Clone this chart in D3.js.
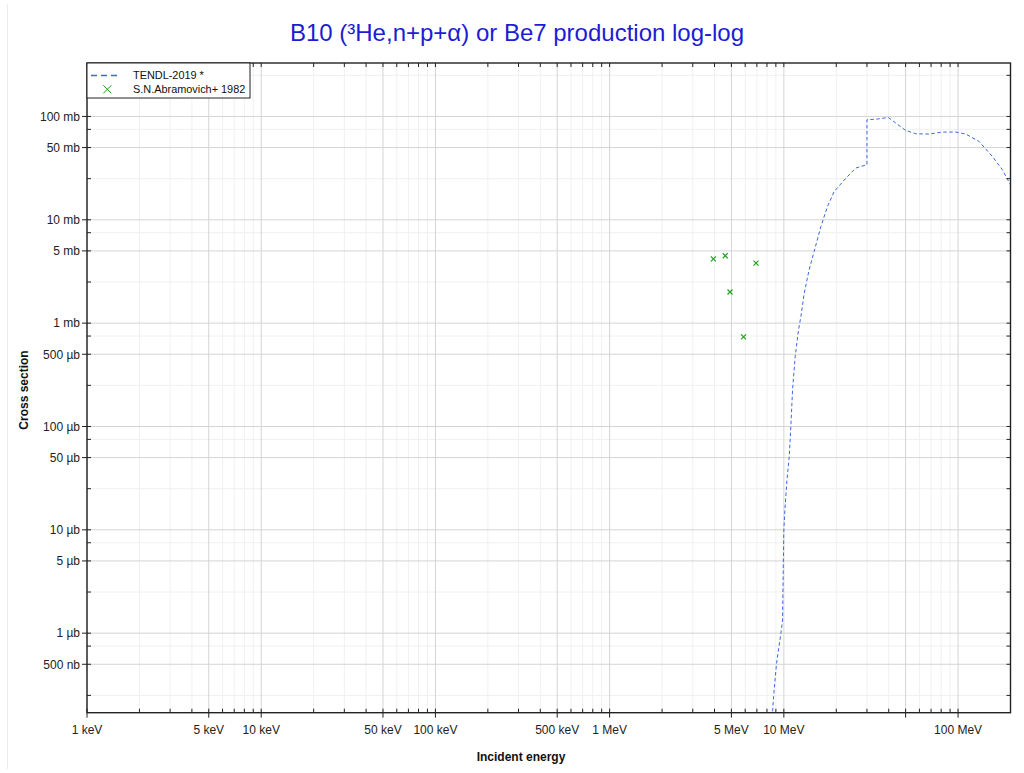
<!DOCTYPE html>
<html><head><meta charset="utf-8">
<script src="https://cdn.jsdelivr.net/npm/d3@7"></script>
<style>body{margin:0;background:#fff;font-family:"Liberation Sans",Arial,sans-serif}</style>
</head><body><svg id="c" width="1024" height="773"></svg>
<script>
// TENDL-2019 evaluation: energy (eV), cross section (b)
const tendlE = [8.3e6,8.61e6,8.73e6,9.08e6,9.62e6,9.83e6,9.93e6,1.0e7,1.014e7,1.042e7,1.074e7,1.097e7,1.122e7,1.162e7,1.214e7,1.253e7,1.309e7,1.397e7,1.492e7,1.632e7,1.782e7,1.946e7,2.271e7,2.59e7,3.0e7,3.0e7,3.445e7,3.98e7,4.39e7,5.01e7,5.72e7,6.82e7,8.13e7,9.7e7,1.107e8,1.32e8,1.574e8,1.796e8,2.0e8];
const tendlS = [9.0e-8,1.69e-7,2.43e-7,5.12e-7,1.0e-6,1.34e-6,4.75e-6,9.98e-6,1.56e-5,3.04e-5,5.12e-5,9.98e-5,2.26e-4,4.75e-4,8.6e-4,1.16e-3,1.95e-3,3.28e-3,4.93e-3,8.61e-3,1.35e-2,1.88e-2,2.53e-2,3.17e-2,3.41e-2,9.29e-2,9.44e-2,9.78e-2,8.63e-2,7.32e-2,6.8e-2,6.76e-2,7.06e-2,7.06e-2,6.76e-2,5.73e-2,4.1e-2,3.05e-2,2.18e-2];
// EXFOR S.N.Abramovich+ 1982
const expE = [3.94e6,4.61e6,4.91e6,5.87e6,6.92e6];
const expS = [4.19e-3,4.49e-3,2.0e-3,7.37e-4,3.81e-3];
// tick labels
const xTickVals = [1e3,5e3,1e4,5e4,1e5,5e5,1e6,5e6,1e7,1e8];
const xTickLabels = ["1 keV","5 keV","10 keV","50 keV","100 keV","500 keV","1 MeV","5 MeV","10 MeV","100 MeV"];
const yTickVals = [0.1,0.05,0.01,0.005,0.001,5e-4,1e-4,5e-5,1e-5,5e-6,1e-6,5e-7];
const yTickLabels = ["100 mb","50 mb","10 mb","5 mb","1 mb","500 µb","100 µb","50 µb","10 µb","5 µb","1 µb","500 nb"];
const legendLabels = ["TENDL-2019 *","S.N.Abramovich+ 1982"];
const titleText = "B10 (³He,n+p+α) or Be7 production log-log";

const L=87, R=1010.5, T=63, B=712.7;
const svg = d3.select("#c");
const x = d3.scaleLog().domain([1e3,2e8]).range([L,R]);
const y = d3.scaleLog().domain([1.70e-7,0.329]).range([B,T]);

const xMinor=[]; for(let e=3;e<=8;e++) for(let m=2;m<=9;m++){const v=m*Math.pow(10,e); if(v<=2e8 && m!==5) xMinor.push(v);}
const xMajor=[]; for(let e=3;e<=8;e++){[1,5].forEach(m=>{const v=m*Math.pow(10,e); if(v<=2e8) xMajor.push(v);});}
const yMinor=[]; for(let e=-7;e<=0;e++) [2.5,7.5].forEach(m=>{const v=m*Math.pow(10,e); if(v>=1.7e-7&&v<=0.329) yMinor.push(v);});
const yMajor=[]; for(let e=-7;e<=0;e++) [1,5].forEach(m=>{const v=m*Math.pow(10,e); if(v>=1.7e-7&&v<=0.329) yMajor.push(v);});

svg.append("line").attr("x1",7.5).attr("x2",7.5).attr("y1",4).attr("y2",769).attr("stroke","#ececec");

const g = svg.append("g");
g.selectAll(".gxm").data(xMinor).join("line").attr("x1",d=>x(d)).attr("x2",d=>x(d)).attr("y1",T).attr("y2",B).attr("stroke","#f0f0f0");
g.selectAll(".gym").data(yMinor).join("line").attr("y1",d=>y(d)).attr("y2",d=>y(d)).attr("x1",L).attr("x2",R).attr("stroke","#f0f0f0");
g.selectAll(".gxM").data(xMajor).join("line").attr("x1",d=>x(d)).attr("x2",d=>x(d)).attr("y1",T).attr("y2",B).attr("stroke","#d4d4d4");
g.selectAll(".gyM").data(yMajor).join("line").attr("y1",d=>y(d)).attr("y2",d=>y(d)).attr("x1",L).attr("x2",R).attr("stroke","#d4d4d4");

svg.append("clipPath").attr("id","clip").append("rect").attr("x",L).attr("y",T).attr("width",R-L).attr("height",B-T);

const pts = tendlE.map((e,i)=>[e,tendlS[i]]);
svg.append("path").attr("clip-path","url(#clip)")
  .attr("d", d3.line().x(d=>x(d[0])).y(d=>y(d[1]))(pts))
  .attr("fill","none").attr("stroke","#3d66e0").attr("stroke-width",1).attr("stroke-dasharray","3.5,2.5");

const xm = (cx,cy,s)=>`M${cx-s},${cy-s}L${cx+s},${cy+s}M${cx-s},${cy+s}L${cx+s},${cy-s}`;
svg.selectAll(".pt").data(expE.map((e,i)=>[e,expS[i]])).join("path")
  .attr("d",d=>xm(x(d[0]),y(d[1]),2.5)).attr("stroke","#22a022").attr("stroke-width",1.2).attr("fill","none");

const ax = svg.append("g").attr("stroke","#222");
ax.selectAll(".tbM").data(xTickVals.concat([5e7])).join("line").attr("x1",d=>x(d)).attr("x2",d=>x(d)).attr("y1",B-4).attr("y2",B+5);
ax.selectAll(".tbm").data(xMinor).join("line").attr("x1",d=>x(d)).attr("x2",d=>x(d)).attr("y1",B-4).attr("y2",B);
ax.selectAll(".ttm").data(xMinor.concat(xMajor)).join("line").attr("x1",d=>x(d)).attr("x2",d=>x(d)).attr("y1",T).attr("y2",T+4);
ax.selectAll(".tlM").data(yTickVals).join("line").attr("y1",d=>y(d)).attr("y2",d=>y(d)).attr("x1",L-5).attr("x2",L+4);
ax.selectAll(".tlm").data(yMinor).join("line").attr("y1",d=>y(d)).attr("y2",d=>y(d)).attr("x1",L).attr("x2",L+4);
ax.selectAll(".trm").data(yMinor.concat(yMajor)).join("line").attr("y1",d=>y(d)).attr("y2",d=>y(d)).attr("x1",R-4).attr("x2",R);
svg.append("rect").attr("x",L).attr("y",T).attr("width",R-L).attr("height",B-T).attr("fill","none").attr("stroke","#222").attr("stroke-width",1.4);

svg.selectAll(".xl").data(xTickVals).join("text").attr("x",d=>x(d)).attr("y",734).attr("text-anchor","middle")
  .attr("font-size",12).attr("fill","#222").text((d,i)=>xTickLabels[i]);
svg.selectAll(".yl").data(yTickVals).join("text").attr("x",L-7).attr("y",d=>y(d)+4.3).attr("text-anchor","end")
  .attr("font-size",12).attr("fill","#222").text((d,i)=>yTickLabels[i]);

svg.append("text").attr("x",521).attr("y",761).attr("text-anchor","middle").attr("font-size",12).attr("font-weight","bold").attr("fill","#111").text("Incident energy");
svg.append("text").attr("transform","translate(28,390) rotate(-90)").attr("text-anchor","middle").attr("font-size",12).attr("font-weight","bold").attr("fill","#111").text("Cross section");

svg.append("text").attr("x",517).attr("y",41).attr("text-anchor","middle").attr("font-size",24).attr("fill","#1c1cd4").text(titleText);

const lg = svg.append("g");
lg.append("rect").attr("x",L).attr("y",T).attr("width",163).attr("height",35).attr("fill","#fff").attr("stroke","#222").attr("stroke-width",1);
lg.append("line").attr("x1",91).attr("x2",118).attr("y1",75.5).attr("y2",75.5).attr("stroke","#3d66e0").attr("stroke-width",1.3).attr("stroke-dasharray","6,4");
lg.append("path").attr("d",xm(107.3,89.3,4)).attr("stroke","#22a022").attr("stroke-width",1).attr("fill","none");
lg.selectAll(".lt").data(legendLabels).join("text").attr("x",133).attr("y",(d,i)=>79+i*14).attr("font-size",10.9).attr("fill","#111").text(d=>d);
</script></body></html>
